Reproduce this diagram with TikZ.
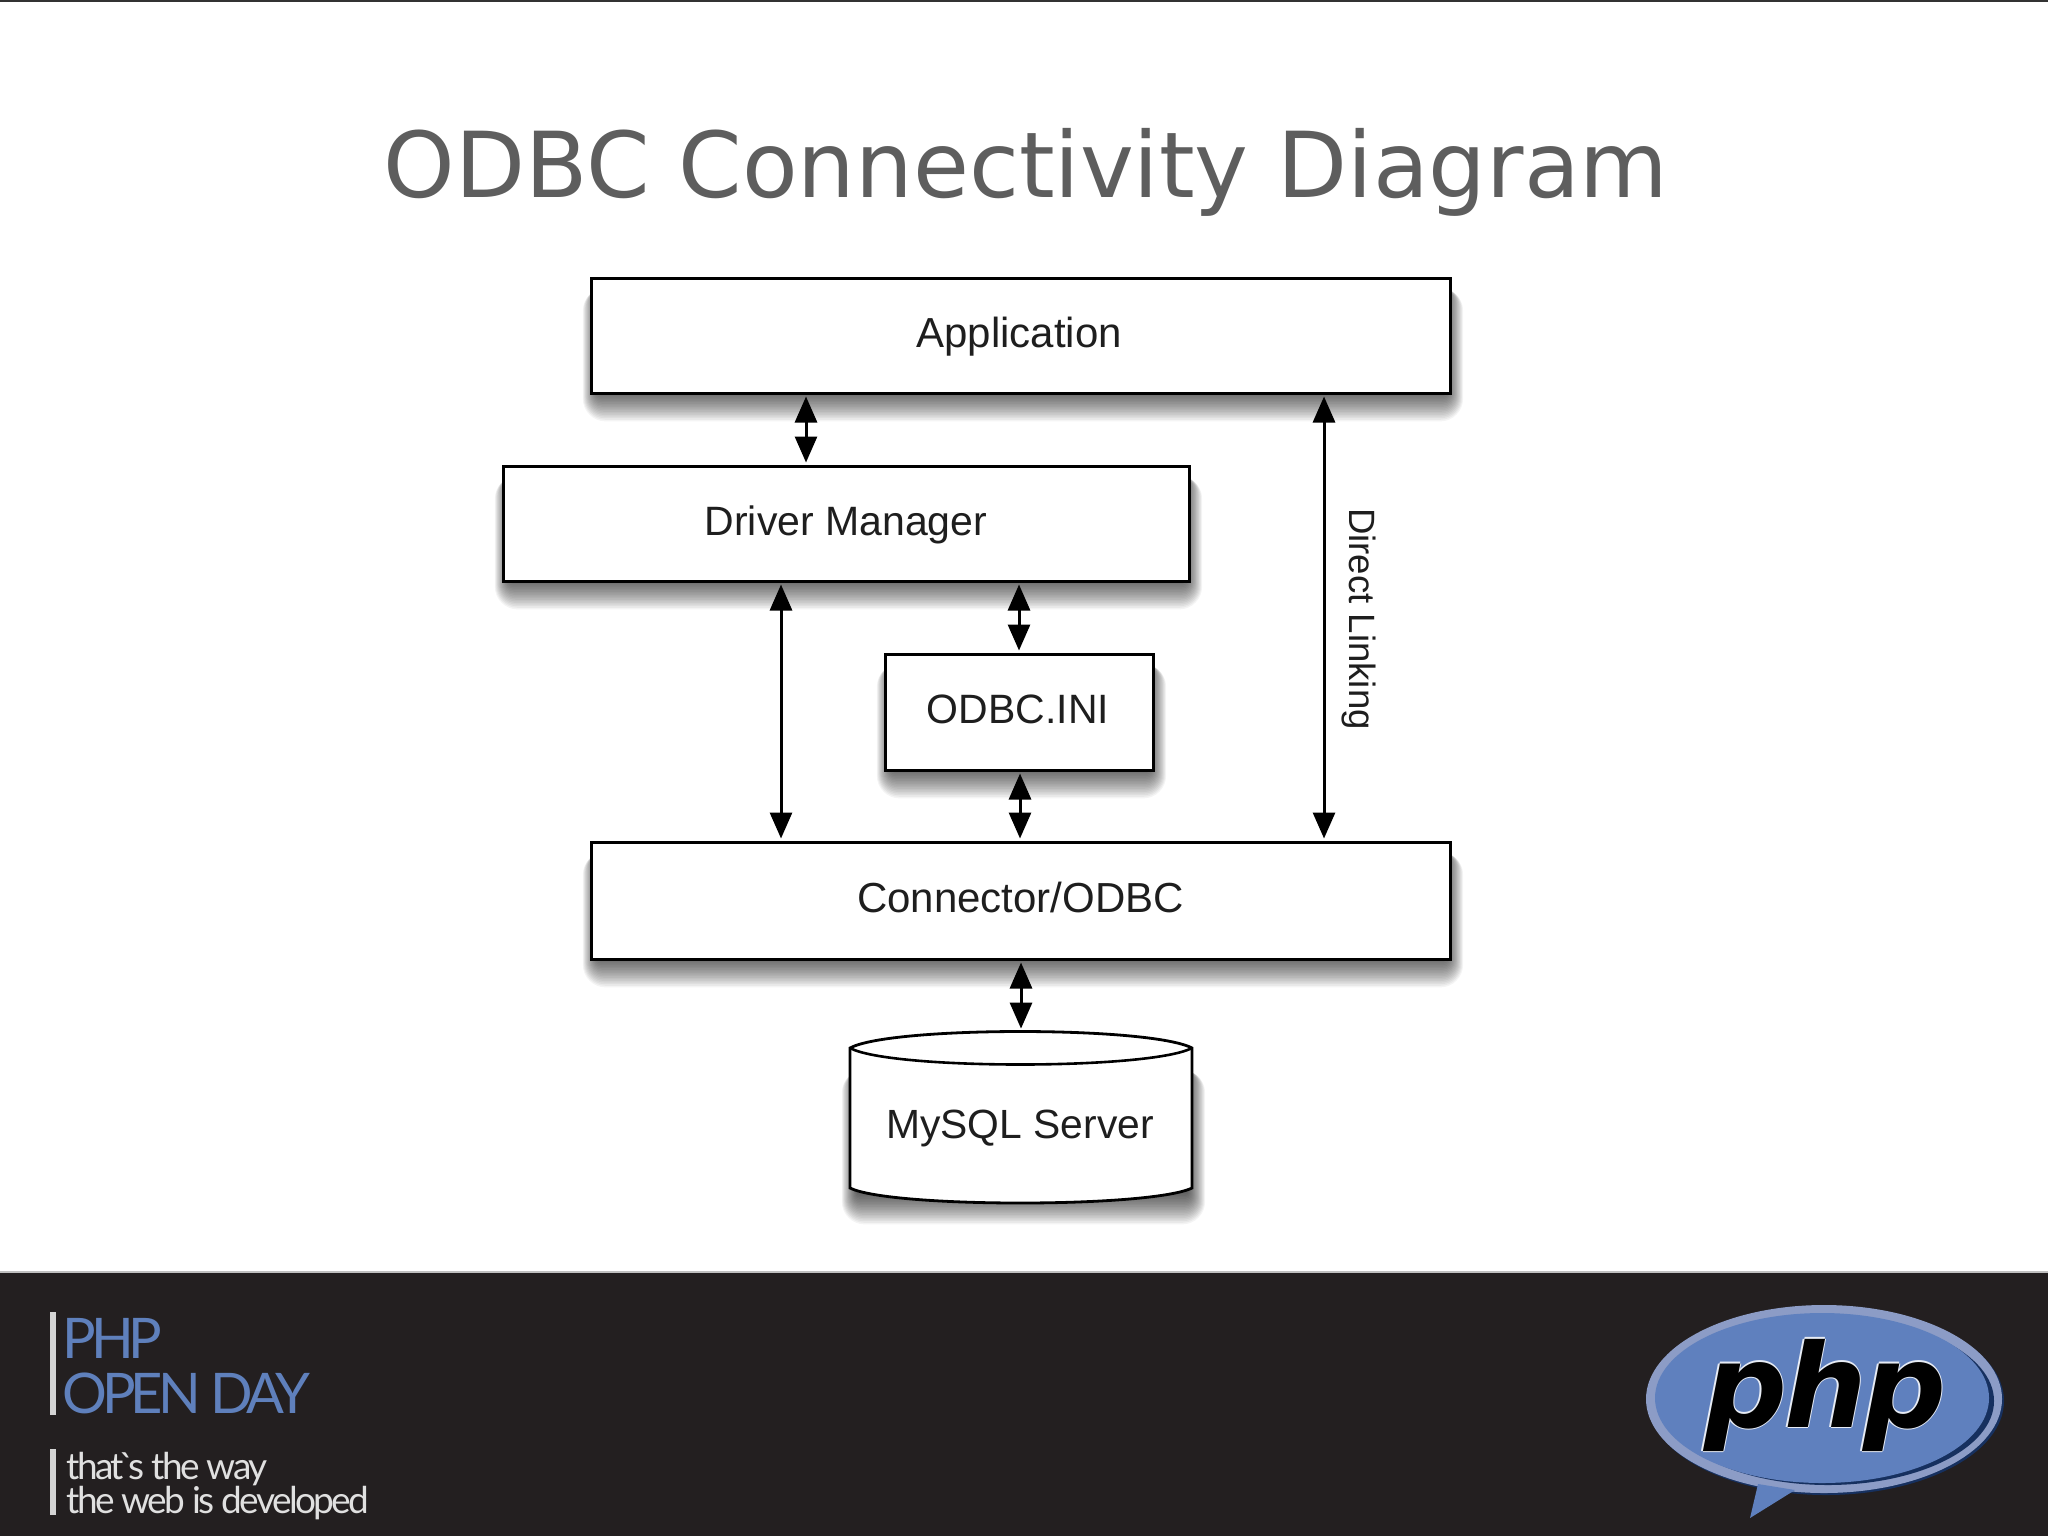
\documentclass[tikz,border=0pt]{standalone}
\usepackage{fontspec}
\usetikzlibrary{arrows.meta}
\setmainfont{Liberation Sans}
\newfontfamily\titlefont{DejaVu Sans}
\newfontfamily\logofont[LetterSpace=-9]{Lato}
\newfontfamily\tagfont[LetterSpace=-7]{Lato}
\newfontfamily\phpfont[LetterSpace=-3]{DejaVu Sans}
\definecolor{band}{HTML}{231F20}
\definecolor{titlegray}{HTML}{5E5E5E}
\definecolor{ink}{HTML}{1E1E1E}
\definecolor{phpblue}{HTML}{5F80BE}
\definecolor{phpring}{HTML}{8C9CC6}
\definecolor{phpdark}{HTML}{16305F}
\definecolor{daytext}{HTML}{5F80BC}
\definecolor{barcol}{HTML}{D4D4D4}
\newcommand{\softshadow}[4]{%
  \foreach \i in {0,...,19}{
    \fill[black,opacity=0.045,rounded corners={(2+\i*1.1)*0.5pt}]
      ({#1+7-\i*0.8},{#2+10}) rectangle ({#3-4+\i*0.9},{#4-2+\i*1.6});
  }}
\newcommand{\lifted}[2]{\raisebox{#1}[0pt][0pt]{#2}}
\tikzset{
  x=0.5pt,y=-0.5pt,
  boxnode/.style={draw=black,line width=1.5pt,fill=white,text=ink,font=\fontsize{21}{25}\selectfont,inner sep=0pt,anchor=center},
  smallbox/.style={boxnode,font=\fontsize{20.5}{25}\selectfont},
  lbl/.style={text=ink,font=\fontsize{20.4}{25}\selectfont,inner sep=0pt},
  dbl/.style={draw=black,line width=1.5pt,{Triangle[length=13pt,width=11pt]}-{Triangle[length=13pt,width=11pt]},shorten <=1pt,shorten >=1pt},
  bar/.style={draw=none,fill=barcol},
  daylbl/.style={text=daytext,font=\logofont\fontsize{28}{33}\selectfont,inner sep=0pt,anchor=base west},
  taglbl/.style={text=white!88!black,font=\tagfont\fontsize{18.5}{22}\selectfont,inner sep=0pt,anchor=base west},
  phplbl/.style={font=\phpfont\bfseries\itshape\fontsize{58}{60}\selectfont,inner sep=0pt,anchor=base west},
}
\begin{document}
\begin{tikzpicture}
\useasboundingbox (0,0) rectangle (2048,1536);
\fill[white] (0,0) rectangle (2048,1536);
\fill[black!80] (0,0) rectangle (2048,2);
% shadows
\softshadow{591}{278}{1450}{393}
\softshadow{503}{466}{1189}{581}
\softshadow{885}{654}{1153}{770}
\softshadow{591}{842}{1450}{959}
\softshadow{850}{1060}{1192}{1196}
% boxes
\node[boxnode,minimum width=429.5pt,minimum height=57.5pt] (app) at (1020.5,335.5) {\kern-1.5pt\lifted{-5.75pt}{Application}};
\node[smallbox,minimum width=343pt,minimum height=57.5pt] (dm) at (846,523.5) {\lifted{-6pt}{Driver Manager}};
\node[smallbox,minimum width=134pt,minimum height=58pt] (ini) at (1019,712) {\kern-1pt\lifted{-5.6pt}{ODBC.INI}};
\node[boxnode,minimum width=429.5pt,minimum height=58.5pt] (conn) at (1020.5,900.5) {\lifted{-5.8pt}{Connector/ODBC}};
% cylinder
\filldraw[draw=black,line width=1.4pt,fill=white]
  (850,1048) -- (850,1188) .. controls (890,1208) and (1150,1208) .. (1192,1188) -- (1192,1048)
  .. controls (1150,1026) and (890,1026) .. (850,1048) -- cycle;
\draw[black,line width=1.3pt] (850,1048) .. controls (890,1070) and (1150,1070) .. (1192,1048);
\node[lbl,minimum width=171pt,minimum height=93pt] (db) at (1020,1124) {\lifted{-7pt}{MySQL Server}};
% connector anchors
\coordinate (xa) at (806,0);
\coordinate (xb) at (781,0);
\coordinate (xc) at (1019,0);
\coordinate (xd) at (1020,0);
\coordinate (xe) at (1021,0);
\coordinate (xf) at (1324,0);
\draw[dbl] (app.south -| xa) -- (dm.north -| xa);
\draw[dbl] (dm.south -| xb) -- (conn.north -| xb);
\draw[dbl] (dm.south -| xc) -- (ini.north -| xc);
\draw[dbl] (ini.south -| xd) -- (conn.north -| xd);
\draw[dbl] (conn.south -| xe) -- (db.north -| xe);
\draw[dbl] (app.south -| xf) -- (conn.north -| xf);
\node[lbl,rotate=-90,font=\fontsize{18.3}{22}\selectfont] (dl) at (1359,619) {Direct Linking};
% title
\node[text=titlegray,font=\titlefont\fontsize{45.5}{52}\selectfont,inner sep=0pt] (title) at (1026,172) {ODBC Connectivity Diagram};
% footer
\fill[black!25] (0,1271) rectangle (2048,1274);
\fill[band] (0,1273) rectangle (2048,1536);
\fill[bar] (50,1312) rectangle (56,1415);
\fill[bar] (50,1449) rectangle (56,1515);
\node[daylbl] (p1) at (62,1358) {PHP};
\node[daylbl] (p2) at (62,1413) {OPEN DAY};
\node[taglbl] (t1) at (66,1479) {that\kern-2.5pt\textasciigrave\kern-2.5pt s the way};
\node[taglbl] (t2) at (66,1513) {the web is developed};
% php logo
\fill[phpdark] (1826,1401) ellipse [x radius=178,y radius=94];
\fill[phpring] (1824,1399) ellipse [x radius=178,y radius=94];
\fill[phpdark] (1828,1401) ellipse [x radius=166,y radius=84];
\fill[phpblue] (1822,1398) ellipse [x radius=167,y radius=85];
\fill[phpblue] (1758,1484) -- (1750,1518) -- (1795,1490) -- cycle;
\foreach \dx/\dy in {-1.5/0,1.5/0,0/-1.5,0/1.5}{
  \node[phplbl,text=white!85!phpblue] at (1704+\dx,1427+\dy) {php};
}
\node[phplbl,text=black] (logo) at (1704,1427) {php};
\end{tikzpicture}
\end{document}
